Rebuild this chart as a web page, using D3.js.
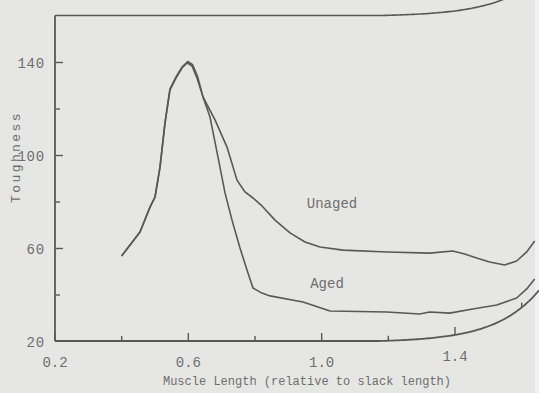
<!DOCTYPE html>
<html>
<head>
<meta charset="utf-8">
<script src="https://cdn.jsdelivr.net/npm/d3@7/dist/d3.min.js"></script>
<style>
  html, body { margin: 0; padding: 0; background: #e6e6e4; }
  svg { display: block; }
  text { font-family: "Liberation Mono", "DejaVu Sans Mono", monospace; fill: #6e6e6e; }
</style>
</head>
<body>
<svg width="539" height="393"></svg>
<script>
// muscle length (relative to slack length) and toughness
var lengthUnaged = [0.40, 0.455, 0.485, 0.50, 0.515, 0.53, 0.545, 0.563, 0.581, 0.596, 0.611, 0.626, 0.644,
  0.68, 0.716, 0.746, 0.77, 0.794, 0.821, 0.86, 0.905, 0.95, 0.995, 1.064, 1.196, 1.324, 1.393, 1.429,
  1.465, 1.504, 1.549, 1.585, 1.615, 1.639];
var toughUnaged = [56.6, 66.9, 77.6, 81.9, 94.8, 113.8, 128.0, 133.1, 137.4, 139.6, 138.3, 133.1, 125.0,
  115.1, 103.4, 89.2, 84.1, 81.5, 78.1, 72.0, 66.5, 62.6, 60.4, 59.1, 58.3, 57.8, 58.7, 57.4,
  55.7, 54.0, 52.7, 54.4, 58.3, 63.0];

var lengthAged = [0.40, 0.455, 0.485, 0.50, 0.515, 0.53, 0.545, 0.563, 0.581, 0.598, 0.613, 0.628, 0.644,
  0.665, 0.689, 0.71, 0.731, 0.755, 0.776, 0.794, 0.821, 0.845, 0.944, 1.025, 1.196, 1.294, 1.324,
  1.384, 1.453, 1.525, 1.585, 1.615, 1.639];
var toughAged = [56.6, 66.9, 77.6, 81.9, 94.8, 113.8, 128.5, 133.6, 137.8, 140.2, 138.8, 133.6, 125.0,
  116.3, 99.1, 83.7, 72.0, 60.0, 50.5, 42.8, 40.6, 39.4, 36.8, 32.9, 32.5, 31.6, 32.5,
  32.0, 33.8, 35.5, 38.5, 42.4, 46.7];

var xTicks = [0.2, 0.4, 0.6, 0.8, 1.0, 1.2, 1.4, 1.6];
var xLabels = [0.2, 0.6, 1.0, 1.4];
var yTicks = [20, 40, 60, 80, 100, 120, 140];
var yLabels = [20, 60, 100, 140];

var seriesNames = ["Unaged", "Aged"];
var seriesLabelAt = [[1.031, 79.4], [1.016, 44.9]];

var ink = "#585858";
var svg = d3.select("svg");

var x = d3.scaleLinear().domain([0.2, 1.64]).range([55, 535]);
var y = d3.scaleLinear().domain([20, 160]).range([341, 15.5]);

// page curl of the scan near the binding edge
function curl(px) {
  return px <= 380 ? 0 : -1.29 * (Math.exp((px - 380) / 43) - 1);
}

// light strip of the page edge
svg.append("rect")
  .attr("x", 535).attr("y", 0).attr("width", 4).attr("height", 393)
  .attr("fill", "#f1f1ef");

// frame: top edge and bottom axis follow the curl
var edgeX = d3.range(55, 540, 2);
svg.append("path")
  .attr("d", d3.line()(edgeX.map(function (px) { return [px, y(160) + 0.75 * curl(px)]; })))
  .attr("fill", "none").attr("stroke", ink).attr("stroke-width", 1.6);
svg.append("path")
  .attr("d", d3.line()(edgeX.map(function (px) { return [px, y(20) + curl(px)]; })))
  .attr("fill", "none").attr("stroke", ink).attr("stroke-width", 1.8);

// x axis
var xAxis = d3.axisBottom(x)
  .tickValues(xTicks)
  .tickSize(0)
  .tickPadding(0)
  .tickFormat(function (d) { return xLabels.indexOf(d) >= 0 ? d3.format(".1f")(d) : ""; });

var gx = svg.append("g")
  .attr("transform", "translate(0," + y(20) + ")")
  .call(xAxis);
gx.select(".domain").remove();
gx.selectAll(".tick")
  .attr("transform", function (d) { return "translate(" + x(d) + "," + curl(x(d)) + ")"; });
gx.selectAll(".tick line")
  .attr("y2", function (d) { return xLabels.indexOf(d) >= 0 ? -8 : -5; })
  .attr("stroke", ink).attr("stroke-width", 1.4);
gx.selectAll(".tick text")
  .attr("y", 26)
  .attr("dy", 0)
  .style("font-size", "14px")
  .style("fill", "#6e6e6e");

// y axis
var yAxis = d3.axisLeft(y)
  .tickValues(yTicks)
  .tickSize(0)
  .tickPadding(0)
  .tickFormat(function (d) { return yLabels.indexOf(d) >= 0 ? d : ""; });

var gy = svg.append("g")
  .attr("transform", "translate(" + x(0.2) + ",0)")
  .call(yAxis);
gy.select(".domain")
  .attr("d", "M0," + y(20) + "V" + y(160))
  .attr("stroke", ink).attr("stroke-width", 1.8);
gy.selectAll(".tick line")
  .attr("x2", function (d) { return d === 20 ? 0 : (yLabels.indexOf(d) >= 0 ? 8 : 5); })
  .attr("stroke", ink).attr("stroke-width", 1.4);
gy.selectAll(".tick text")
  .attr("x", -10)
  .attr("dy", "0.36em")
  .style("font-size", "14px")
  .style("letter-spacing", "0.8px")
  .style("fill", "#6e6e6e");

// curves
var line = d3.line()
  .x(function (d) { return x(d[0]); })
  .y(function (d) { return y(d[1]); });

var series = [d3.zip(lengthUnaged, toughUnaged), d3.zip(lengthAged, toughAged)];
svg.append("g").selectAll("path")
  .data(series)
  .enter()
  .append("path")
  .attr("d", line)
  .attr("fill", "none")
  .attr("stroke", ink)
  .attr("stroke-width", 1.6)
  .attr("stroke-linejoin", "round");

svg.append("g").selectAll("text")
  .data(seriesNames)
  .enter()
  .append("text")
  .attr("x", function (d, i) { return x(seriesLabelAt[i][0]); })
  .attr("y", function (d, i) { return y(seriesLabelAt[i][1]); })
  .attr("dy", "0.36em")
  .attr("text-anchor", "middle")
  .style("font-size", "14px")
  .text(function (d) { return d; });

// axis titles
svg.append("text")
  .attr("x", 307)
  .attr("y", 385)
  .attr("text-anchor", "middle")
  .style("font-size", "12px")
  .text("Muscle Length (relative to slack length)");

svg.append("text")
  .attr("transform", "translate(20,157) rotate(-90)")
  .attr("text-anchor", "middle")
  .style("font-size", "13px")
  .style("letter-spacing", "2.4px")
  .text("Toughness");
</script>
</body>
</html>
